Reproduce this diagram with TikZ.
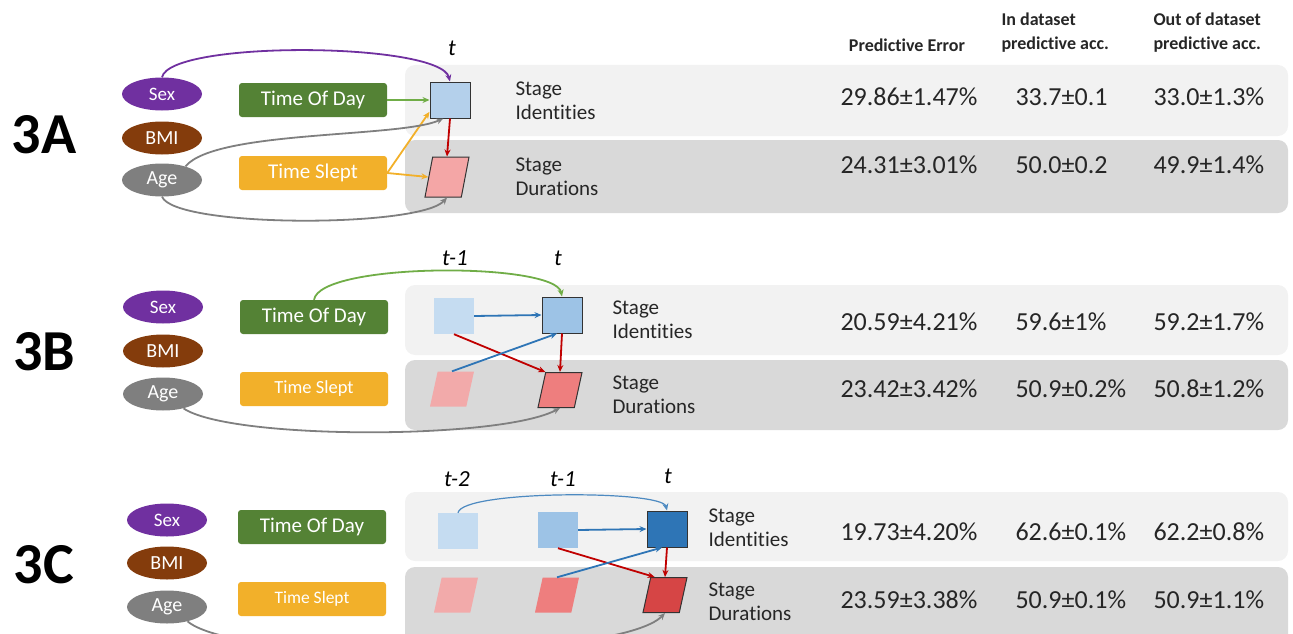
\documentclass[tikz,border=0pt]{standalone}
\usepackage{fontspec}
\setmainfont{Carlito}[Ligatures=NoCommon]
\usetikzlibrary{shapes.geometric,arrows.meta}

\definecolor{sexcol}{HTML}{7030A0}
\definecolor{bmicol}{HTML}{843C0C}
\definecolor{agecol}{HTML}{7F7F7F}
\definecolor{todcol}{HTML}{548235}
\definecolor{todline}{HTML}{70AD47}
\definecolor{slpcol}{HTML}{F2B02A}
\definecolor{rowlight}{HTML}{F2F2F2}
\definecolor{rowdark}{HTML}{D9D9D9}
\definecolor{idpale}{HTML}{C5DCF1}
\definecolor{idlight}{HTML}{B4D0EB}
\definecolor{idmid}{HTML}{9DC3E6}
\definecolor{iddark}{HTML}{2E75B6}
\definecolor{durpale}{HTML}{F2AAAA}
\definecolor{durlight}{HTML}{F4A6A6}
\definecolor{durmid}{HTML}{EE7E7E}
\definecolor{durdark}{HTML}{D64545}
\definecolor{bluearr}{HTML}{2E75B6}
\definecolor{redarr}{HTML}{C00000}

\newcommand{\fsize}[1]{\fontsize{#1}{#1}\selectfont}

\begin{document}
\begin{tikzpicture}[x=1pt, y=-1pt,
  covar/.style={ellipse, minimum width=80pt, minimum height=33pt, inner sep=0pt, text=white, font=\fsize{20}},
  feat/.style={rectangle, rounded corners=3pt, minimum width=148pt, minimum height=34pt, inner sep=0pt, text=white, font=\fsize{21}},
  ident/.style={rectangle, minimum width=40pt, minimum height=36pt, inner sep=0pt},
  dur/.style={trapezium, trapezium left angle=75, trapezium right angle=105, trapezium stretches=true,
    minimum width=44pt, minimum height=35pt, inner sep=1pt},
  edge/.style={draw=black!80, line width=1pt},
  tlbl/.style={font=\fsize{23}\itshape},
  stagetxt/.style={anchor=west, align=left, font=\fontsize{21}{24}\selectfont, text=black!85},
  hdr/.style={font=\fontsize{18}{24}\selectfont\bfseries, text=black!85},
  num/.style={anchor=base west, font=\fsize{26}, text=black!85},
  panel/.style={font=\fsize{58}\bfseries},
  arr/.style={-{Stealth[length=7pt,width=6pt]}, line width=1.8pt}]
\useasboundingbox (0,0) rectangle (1293,634);

% table header
\node[hdr] (hpe) at (907,45) {Predictive Error};
\node[hdr, anchor=west, align=left] (hin) at (998,33) {In dataset\\predictive acc.};
\node[hdr, anchor=west, align=left] (hout) at (1150,33) {Out of dataset\\predictive acc.};

% row backgrounds
\fill[rowlight, rounded corners=10pt] (405,65) rectangle (1288,136);
\fill[rowdark, rounded corners=10pt] (405,140) rectangle (1288,213);
\fill[rowlight, rounded corners=10pt] (405,285) rectangle (1288,355);
\fill[rowdark, rounded corners=10pt] (405,360) rectangle (1288,430);
\fill[rowlight, rounded corners=10pt] (405,492) rectangle (1288,561);
\fill[rowdark, rounded corners=10pt] (405,567) rectangle (1288,650);

% ---- 3A ----
\node[panel] (labA) at (44,135) {3A};
\node[covar, fill=sexcol, font=\fsize{19}] (sexA) at (162,94) {Sex};
\node[covar, fill=bmicol] (bmiA) at (162,138) {BMI};
\node[covar, fill=agecol] (ageA) at (162,180) {Age};
\node[feat, fill=todcol] (todA) at (313,100) {Time Of Day};
\node[feat, fill=slpcol] (slpA) at (313,173) {Time Slept};
\node[ident, edge, fill=idlight] (idA) at (450,100) {};
\node[dur, edge, fill=durlight, minimum height=40pt] (durA) at (447,177) {};
\node[tlbl] (tA) at (452,48) {t};
\node[stagetxt] (sidA) at (512,101) {Stage\\Identities};
\node[stagetxt] (sdurA) at (512,177) {Stage\\Durations};

\draw[arr, sexcol] (sexA.north) .. controls (170,40) and (440,42) .. (idA.north);
\draw[arr, todline] (todA.east) -- (idA.west);
\draw[arr, slpcol] (slpA.east) -- (idA.210);
\draw[arr, slpcol] (slpA.east) -- (durA.west);
\draw[arr, agecol] (ageA.30) .. controls (215,130) and (400,138) .. (idA.250);
\draw[arr, agecol] (ageA.south) .. controls (175,228) and (420,228) .. (durA.south);
\draw[arr, redarr] (idA.south) -- (durA.north);

% ---- 3B ----
\node[panel] (labB) at (44,352) {3B};
\node[covar, fill=sexcol, font=\fsize{19}] (sexB) at (163,307) {Sex};
\node[covar, fill=bmicol] (bmiB) at (163,351) {BMI};
\node[covar, fill=agecol] (ageB) at (163,394) {Age};
\node[feat, fill=todcol] (todB) at (314,317) {Time Of Day};
\node[feat, fill=slpcol, font=\fsize{18.5}] (slpB) at (314,389) {Time Slept};
\node[ident, fill=idpale] (i1B) at (454,316) {};
\node[ident, edge, fill=idmid] (i0B) at (562,315) {};
\node[dur, fill=durpale] (d1B) at (452,389) {};
\node[dur, edge, fill=durmid] (d0B) at (560,390) {};
\node[tlbl] (t1B) at (455,258) {t-1};
\node[tlbl] (t0B) at (558,258) {t};
\node[stagetxt] (sidB) at (609,320) {Stage\\Identities};
\node[stagetxt] (sdurB) at (609,395) {Stage\\Durations};

\draw[arr, todline] (todB.north) .. controls (320,262) and (555,262) .. (i0B.north);
\draw[arr, bluearr] (i1B.east) -- (i0B.west);
\draw[arr, redarr] (i1B.south) -- (d0B.top left corner);
\draw[arr, bluearr] (d1B.north) -- (i0B.255);
\draw[arr, redarr] (i0B.south) -- (d0B.north);
\draw[arr, agecol] (ageB.-35) .. controls (230,440) and (500,440) .. (d0B.south);

% ---- 3C ----
\node[panel] (labC) at (44,565) {3C};
\node[covar, fill=sexcol, font=\fsize{19}] (sexC) at (167,520) {Sex};
\node[covar, fill=bmicol] (bmiC) at (167,563) {BMI};
\node[covar, fill=agecol] (ageC) at (167,607) {Age};
\node[feat, fill=todcol] (todC) at (312,527) {Time Of Day};
\node[feat, fill=slpcol, font=\fsize{17.5}] (slpC) at (312,599) {Time Slept};
\node[ident, fill=idpale] (i2C) at (458,531) {};
\node[ident, fill=idmid] (i1C) at (558,530) {};
\node[ident, edge, fill=iddark] (i0C) at (667,529) {};
\node[dur, fill=durpale] (d2C) at (456,595) {};
\node[dur, fill=durmid] (d1C) at (557,595) {};
\node[dur, edge, fill=durdark] (d0C) at (665,595) {};
\node[tlbl] (t2C) at (457,479) {t-2};
\node[tlbl] (t1C) at (563,479) {t-1};
\node[tlbl] (t0C) at (668,476) {t};
\node[stagetxt] (sidC) at (705,528) {Stage\\Identities};
\node[stagetxt] (sdurC) at (705,602) {Stage\\Durations};

\draw[arr, bluearr!85, line width=1.2pt] (i2C.north) .. controls (462,490) and (662,490) .. (i0C.north);
\draw[arr, bluearr] (i1C.east) -- (i0C.west);
\draw[arr, redarr] (i1C.south) -- (d0C.120);
\draw[arr, bluearr] (d1C.north) -- (i0C.255);
\draw[arr, redarr] (i0C.south) -- (d0C.north);
\draw[arr, agecol] (ageC.-35) .. controls (240,665) and (620,660) .. (d0C.south);

% results
\foreach \i/\y/\pe/\ind/\ood in {
  1/105/29.86±1.47\%/33.7±0.1/33.0±1.3\%,
  2/173/24.31±3.01\%/50.0±0.2/49.9±1.4\%,
  3/330/20.59±4.21\%/59.6±1\%/59.2±1.7\%,
  4/397/23.42±3.42\%/50.9±0.2\%/50.8±1.2\%,
  5/540/19.73±4.20\%/62.6±0.1\%/62.2±0.8\%,
  6/608/23.59±3.38\%/50.9±0.1\%/50.9±1.1\%}
{
  \node[num] (pe\i) at (837,\y) {\pe};
  \node[num] (ind\i) at (1012,\y) {\ind};
  \node[num] (ood\i) at (1150,\y) {\ood};
}

\end{tikzpicture}
\end{document}
